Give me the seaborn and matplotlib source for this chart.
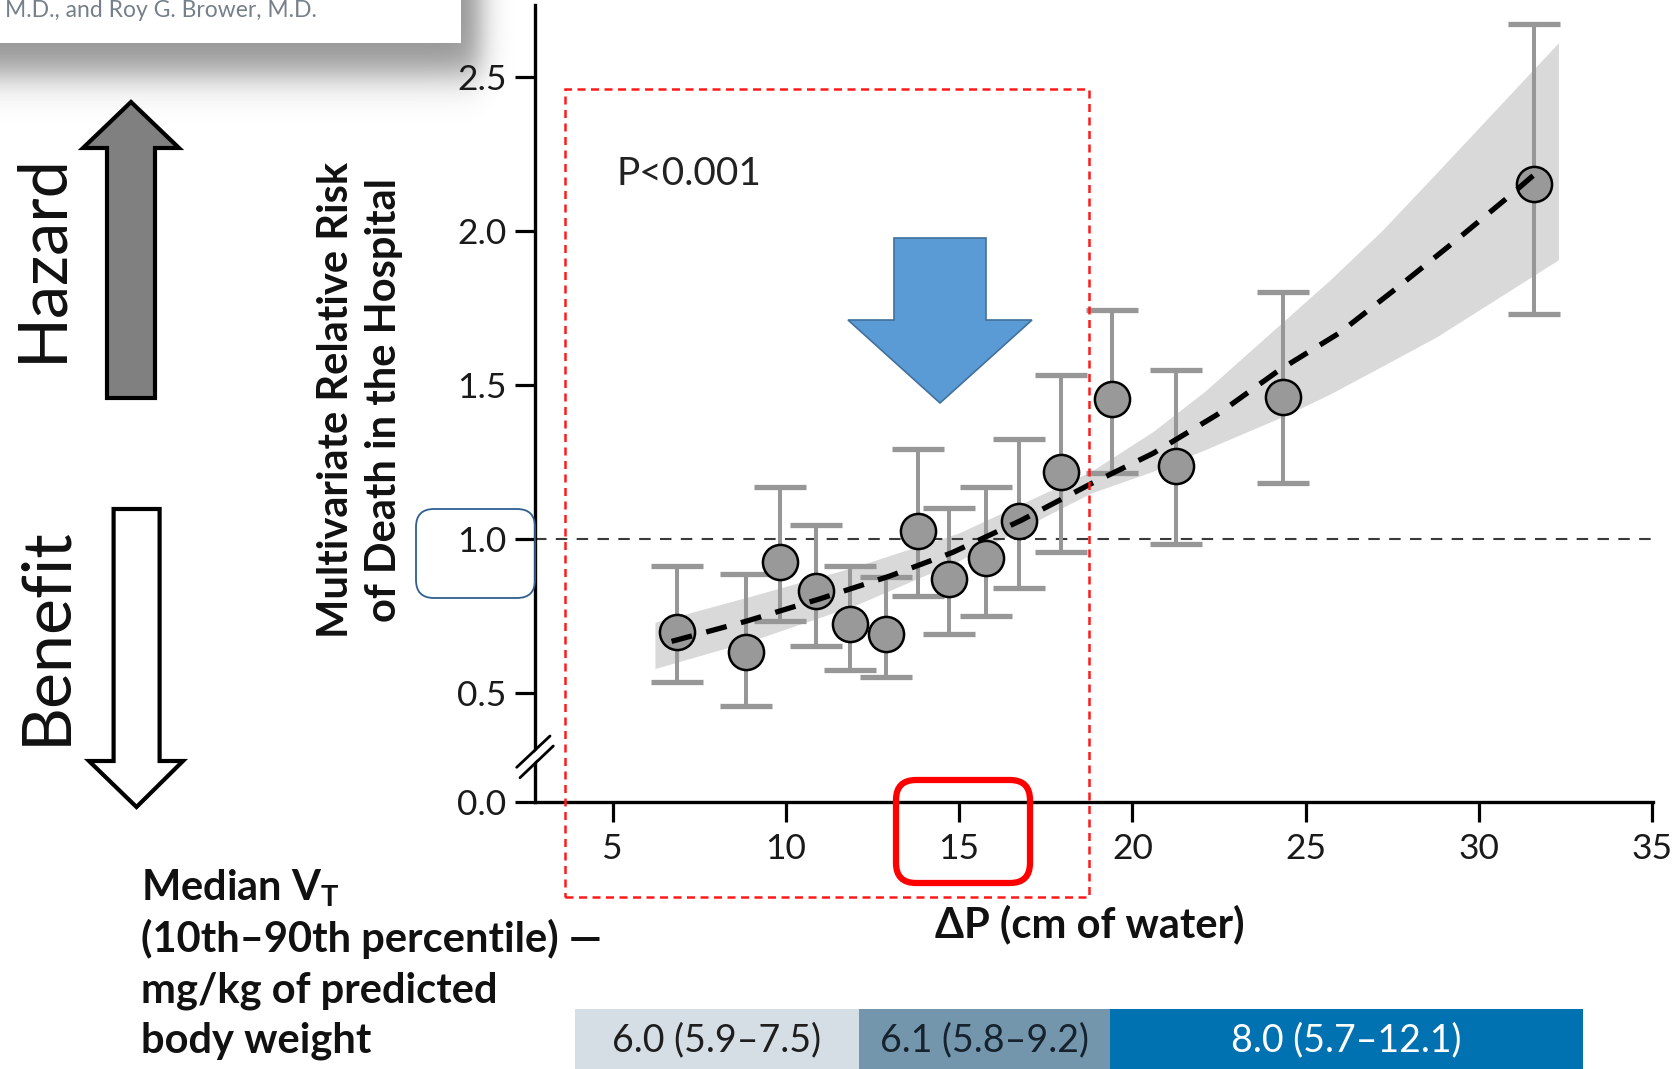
import numpy as np
import pandas as pd
import matplotlib
matplotlib.use("Agg")
import matplotlib.pyplot as plt
from matplotlib.patches import Polygon, FancyBboxPatch, Rectangle
from matplotlib.lines import Line2D
from matplotlib.transforms import IdentityTransform
import seaborn as sns

# Driving pressure groups (cm of water) and adjusted relative risk of death in hospital
delta_p = [6.85, 8.85, 9.84, 10.86, 11.85, 12.89, 13.82, 14.72, 15.77, 16.74, 17.94, 19.42, 21.25, 24.36, 31.59]
relative_risk = [0.700, 0.635, 0.927, 0.830, 0.725, 0.692, 1.026, 0.872, 0.938, 1.057, 1.216, 1.455, 1.237, 1.460, 2.152]
ci_low = [0.536, 0.459, 0.735, 0.654, 0.576, 0.551, 0.816, 0.691, 0.749, 0.840, 0.957, 1.214, 0.984, 1.181, 1.730]
ci_high = [0.913, 0.886, 1.168, 1.045, 0.911, 0.878, 1.291, 1.100, 1.168, 1.324, 1.533, 1.743, 1.549, 1.800, 2.671]

# Fitted trend and its confidence band
trend_x = [6.70, 8.87, 10.98, 13.00, 14.80, 16.78, 18.80, 20.60, 22.44, 24.24, 25.97, 27.70, 29.29, 30.90, 31.58]
trend_y = [0.668, 0.734, 0.806, 0.880, 0.956, 1.060, 1.179, 1.278, 1.403, 1.548, 1.668, 1.820, 1.964, 2.114, 2.180]
band_x = [6.22, 9.0, 12.0, 15.0, 18.8, 20.6, 22.1, 24.4, 25.7, 27.2, 28.8, 32.3]
band_low = [0.580, 0.670, 0.785, 0.930, 1.149, 1.220, 1.290, 1.400, 1.470, 1.560, 1.657, 1.906]
band_high = [0.730, 0.815, 0.910, 1.020, 1.219, 1.349, 1.480, 1.710, 1.840, 2.000, 2.190, 2.610]

# Axis ticks (the y axis is broken between 0.0 and 0.5)
x_ticks = [5, 10, 15, 20, 25, 30, 35]
y_ticks = [0.5, 1.0, 1.5, 2.0, 2.5]
y_tick_labels = ["0.5", "1.0", "1.5", "2.0", "2.5"]
axis_floor = 0.148          # where the broken axis shows "0.0"
axis_floor_label = "0.0"

# Median tidal volume per driving-pressure range
vt_labels = ["6.0 (5.9–7.5)", "6.1 (5.8–9.2)", "8.0 (5.7–12.1)"]
vt_edges = [3.9, 12.1, 19.35, 33.0]
vt_colors = ["#d5dee4", "#7396ac", "#0072b1"]
vt_text_colors = ["#1e1e1e", "#16232e", "#ffffff"]

W, H = 1673, 1069

sns.set_theme(style="white")
plt.rcParams["font.family"] = ["Lato", "DejaVu Sans"]
plt.rcParams["mathtext.fontset"] = "custom"
plt.rcParams["mathtext.rm"] = "Lato"
plt.rcParams["mathtext.bf"] = "Lato:bold"

fig = plt.figure(figsize=(W / 100, H / 100), dpi=100)
fig.patch.set_facecolor("white")
idt = IdentityTransform()


def px(x, y):
    """pixel position measured from the top-left corner -> display coords"""
    return (x, H - y)


# ---- drop shadow of the header card (top left) ----
sh_w, sh_h = 540, 140
ax_sh = fig.add_axes([0, 1 - sh_h / H, sh_w / W, sh_h / H])
xx, yy = np.meshgrid(np.arange(sh_w), np.arange(sh_h))
alpha = 0.42 / (1 + np.exp((xx - 480) / 8.0)) / (1 + np.exp((yy - 74) / 11.0))
rgba = np.zeros((sh_h, sh_w, 4))
rgba[..., 3] = alpha
ax_sh.imshow(rgba, aspect="auto", interpolation="bilinear")
ax_sh.set_axis_off()

# ---- main axes ----
ax_left, ax_right, ax_top, ax_bottom = 535, 1653, 5.4, 801.7
ax = fig.add_axes([ax_left / W, 1 - ax_bottom / H, (ax_right - ax_left) / W, (ax_bottom - ax_top) / H])
ax.set_facecolor("none")

df = pd.DataFrame({"dp": delta_p, "rr": relative_risk, "lo": ci_low, "hi": ci_high})
trend = pd.DataFrame({"x": trend_x, "y": trend_y})

ax.fill_between(band_x, band_low, band_high, color="#d9d9d9", lw=0, zorder=1)
ax.axhline(1.0, color="#3a3a3a", lw=1.5, linestyle=(0, (5.5, 4.5)), zorder=2)
ax.errorbar(df["dp"], df["rr"], yerr=[df["rr"] - df["lo"], df["hi"] - df["rr"]],
            fmt="none", ecolor="#979797", elinewidth=2.9, capsize=18.5, capthick=3.8, zorder=3)
sns.scatterplot(data=df, x="dp", y="rr", s=640, color="#999999", edgecolor="black",
                linewidth=1.8, zorder=4, ax=ax, legend=False)
sns.lineplot(data=trend, x="x", y="y", color="black", lw=3.8, linestyle=(0, (4, 2.8)),
             zorder=5, ax=ax, legend=False)

ax.set_xlim(2.757, 35.03)
ax.set_ylim(axis_floor, 2.731)
ax.set_xticks(x_ticks)
ax.set_xticklabels([str(t) for t in x_ticks])
ax.set_yticks([axis_floor] + y_ticks)
ax.set_yticklabels([axis_floor_label] + y_tick_labels)
ax.tick_params(axis="both", which="major", direction="out", length=14.5, width=2.3,
               color="black", labelsize=25.5, labelcolor="#1a1a1a", pad=6,
               bottom=True, left=True)
ax.tick_params(axis="x", pad=8)
for side in ("top", "right"):
    ax.spines[side].set_visible(False)
for side in ("left", "bottom"):
    ax.spines[side].set_linewidth(2.4)
    ax.spines[side].set_color("black")

ax.set_xlabel("ΔP (cm of water)", fontsize=30, fontweight="bold", color="#111111")
ax.xaxis.set_label_coords((1090 - ax_left) / (ax_right - ax_left), (ax_bottom - 924) / (ax_bottom - ax_top))
ax.xaxis.label.set_va("center")
ax.set_ylabel("Multivariate Relative Risk\nof Death in the Hospital", fontsize=30,
              fontweight="bold", color="#111111", linespacing=1.3)
ax.yaxis.set_label_coords((360 - ax_left) / (ax_right - ax_left), (ax_bottom - 400) / (ax_bottom - ax_top))
ax.yaxis.label.set_va("center")

fig.text(*px(617, 174), "P<0.001", transform=idt, fontsize=28, color="#222222",
         ha="left", va="center")

# ---- axis break marks ----
fig.add_artist(Line2D([518.3, 551.7], [H - 772.5, H - 741], transform=idt, color="white", lw=5.0, zorder=3))
for (x0, y0, x1, y1) in [(516.7, 767.3, 550.0, 736.0), (520.0, 777.7, 553.3, 746.0)]:
    fig.add_artist(Line2D([x0, x1], [H - y0, H - y1], transform=idt, color="black", lw=2.0, zorder=4))

# ---- tidal volume strip along the bottom ----
ax_bar = fig.add_axes([ax_left / W, 0, (ax_right - ax_left) / W, 60 / H], sharex=ax)
for i, lab in enumerate(vt_labels):
    left, right = vt_edges[i], vt_edges[i + 1]
    ax_bar.barh(0, right - left, left=left, height=1.0, color=vt_colors[i], lw=0)
    ax_bar.text((left + right) / 2, -0.02, lab, ha="center", va="center", fontsize=27,
                color=vt_text_colors[i])
ax_bar.set_ylim(-0.5, 0.5)
ax_bar.set_axis_off()

# ---- header card ----
fig.add_artist(Rectangle(px(0, 43), 461, 60, transform=idt, facecolor="white", edgecolor="none", zorder=2))
fig.text(5, H - 17, "M.D., and Roy G. Brower, M.D.", transform=idt, fontsize=16.5,
         color="#75808a", va="baseline", ha="left", zorder=3)

# ---- hazard / benefit arrows ----
hazard = [(107, 398), (155, 398), (155, 148), (179, 148), (131, 102), (83, 148), (107, 148)]
benefit = [(113.6, 509), (159.6, 509), (159.6, 761), (183, 761), (136.5, 807), (89, 761), (113.6, 761)]
fig.add_artist(Polygon([px(*p) for p in hazard], closed=True, transform=idt,
                       facecolor="#808080", edgecolor="black", lw=3.0, joinstyle="miter"))
fig.add_artist(Polygon([px(*p) for p in benefit], closed=True, transform=idt,
                       facecolor="white", edgecolor="black", lw=3.0, joinstyle="miter"))
fig.text(42, H - 258, "Hazard", transform=idt, rotation=90, fontsize=48, color="#111111",
         ha="center", va="center")
fig.text(46, H - 636, "Benefit", transform=idt, rotation=90, fontsize=49, color="#111111",
         ha="center", va="center")

# ---- blue pointer arrow ----
pointer = [(894, 238), (986, 238), (986, 320), (1032, 320), (940, 403), (848, 320), (894, 320)]
fig.add_artist(Polygon([px(*p) for p in pointer], closed=True, transform=idt,
                       facecolor="#5b9bd5", edgecolor="#41719c", lw=1.2))

# ---- highlight boxes ----
fig.add_artist(Rectangle(px(565, 897), 1089 - 565, 897 - 89, transform=idt, fill=False,
                         edgecolor="#ff1a1a", lw=1.8, linestyle=(0, (3.2, 2.2)), zorder=5))
fig.add_artist(FancyBboxPatch(px(896, 883), 1030 - 896, 883 - 780, transform=idt,
                              boxstyle="round,pad=0,rounding_size=20", fill=False,
                              edgecolor="#ff0000", lw=4.5, zorder=5))
fig.add_artist(FancyBboxPatch(px(416, 598), 535 - 416, 598 - 509, transform=idt,
                              boxstyle="round,pad=0,rounding_size=18", fill=False,
                              edgecolor="#2f5f8f", lw=1.3, zorder=5))

# ---- tidal-volume caption ----
caption = [r"Median V$_\mathbf{T}$", "(10th–90th percentile) —", "mg/kg of predicted", "body weight"]
baselines = [900, 952, 1002, 1053]
for line, base in zip(caption, baselines):
    fig.text(141, H - base, line, transform=idt, fontsize=30, fontweight="bold",
             color="#111111", ha="left", va="baseline")

fig.savefig("out.png", dpi=100, facecolor="white")
